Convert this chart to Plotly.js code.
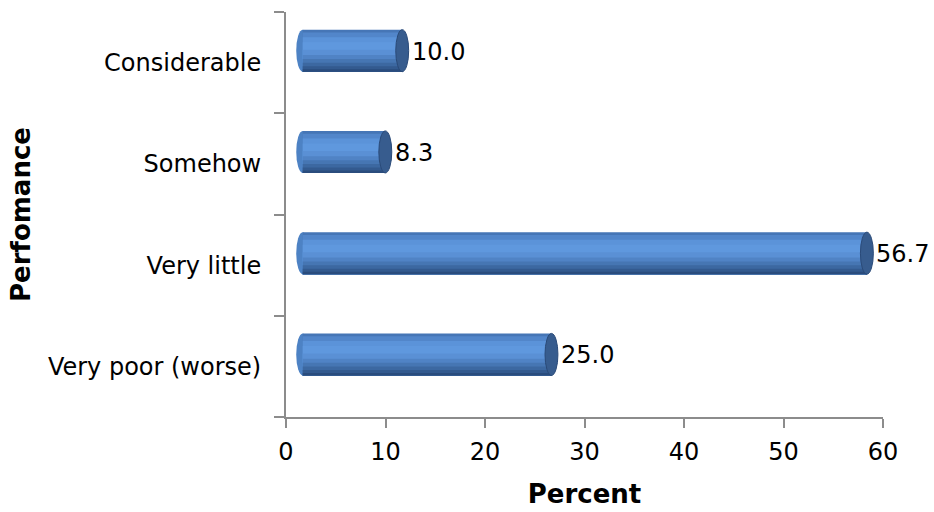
<!DOCTYPE html>
<html>
<head>
<meta charset="utf-8">
<script src="https://cdn.plot.ly/plotly-3.0.1.min.js"></script>
<style>html,body{margin:0;padding:0;background:#fff}#chart{width:934px;height:512px}</style>
</head>
<body>
<div id="chart"></div>
<script>
// Data (bottom to top order on the category axis)
const categories = ["Very poor (worse)", "Very little", "Somehow", "Considerable"];
const percents = [25.0, 56.7, 8.3, 10.0];
const labels = ["25.0", "56.7", "8.3", "10.0"];
const xTicks = [0, 10, 20, 30, 40, 50, 60];

// style constants (3D look of the original cylinders)
const SHIFT = 1.68;      // depth offset along x (axis units)
const CAPW = 0.65;       // half width of the end ellipse
const W = 0.415;         // bar thickness (category units)
const OFF = -0.0895;     // bar shifted upward (depth)
const TOP = OFF + W;

// shading bands: [fraction from top where band starts, colour]
const bands = [
  [0.00, '#4676b6'], [0.07, '#5286ca'], [0.18, '#5b93d9'], [0.30, '#5f98de'],
  [0.48, '#5a90d5'], [0.60, '#5083c5'], [0.70, '#4676b3'], [0.79, '#3c68a1'],
  [0.87, '#335a8f'], [0.94, '#2a4c7d']
];

const traces = bands.map(([f, color]) => ({
  type: 'bar', orientation: 'h', y: categories, x: percents,
  base: SHIFT, width: (1 - f) * W, offset: OFF,
  marker: {color: color, line: {width: 0}},
  hoverinfo: 'skip', showlegend: false
}));

const shapes = [];
const annotations = [];
categories.forEach((c, i) => {
  const yc0 = i + OFF, yc1 = i + TOP;
  // left rounded end
  shapes.push({type: 'circle', xref: 'x', yref: 'y', layer: 'below',
    x0: SHIFT - CAPW, x1: SHIFT + CAPW, y0: yc0, y1: yc1,
    fillcolor: '#4d82c4', line: {width: 0}});
  // right end cap
  const xe = percents[i] + SHIFT;
  shapes.push({type: 'circle', xref: 'x', yref: 'y', layer: 'above',
    x0: xe - CAPW, x1: xe + CAPW, y0: yc0, y1: yc1,
    fillcolor: '#375c8e', line: {color: '#2a4a78', width: 1}});
  annotations.push({x: percents[i], y: c, xref: 'x', yref: 'y',
    text: labels[i], showarrow: false, xanchor: 'left', yanchor: 'middle',
    xshift: 24, yshift: 11,
    font: {family: 'DejaVu Sans', size: 24, color: '#000'}});
});

const layout = {
  width: 934, height: 512,
  margin: {l: 286, r: 51, t: 12, b: 95},
  paper_bgcolor: '#fff', plot_bgcolor: '#fff',
  barmode: 'overlay',
  font: {family: 'DejaVu Sans', size: 24, color: '#000'},
  xaxis: {
    range: [0, 60], tickvals: xTicks, ticktext: xTicks.map(String),
    showgrid: false, zeroline: false,
    showline: true, linecolor: '#8c8c8c', linewidth: 2,
    ticks: 'outside', ticklen: 9, tickwidth: 2, tickcolor: '#8c8c8c',
    tickfont: {family: 'DejaVu Sans', size: 24, color: '#000'},
    ticklabelstandoff: 3,
    title: {text: 'Percent', font: {family: 'DejaVu Sans', size: 26, color: '#000', weight: 'bold'}, standoff: 20}
  },
  yaxis: {
    type: 'category', categoryarray: categories, categoryorder: 'array',
    range: [-0.5, 3.5],
    showgrid: false, zeroline: false,
    showline: true, linecolor: '#8c8c8c', linewidth: 2,
    ticks: 'outside', tickson: 'boundaries', ticklen: 10, tickwidth: 2, tickcolor: '#8c8c8c',
    tickfont: {family: 'DejaVu Sans', size: 24, color: '#000'},
    ticklabelstandoff: 18,
    title: {text: 'Perfomance', font: {family: 'DejaVu Sans', size: 26, color: '#000', weight: 'bold'}, standoff: 10}
  },
  shapes: shapes,
  annotations: annotations
};

Plotly.newPlot('chart', traces, layout, {staticPlot: true, displayModeBar: false});
</script>
</body>
</html>
